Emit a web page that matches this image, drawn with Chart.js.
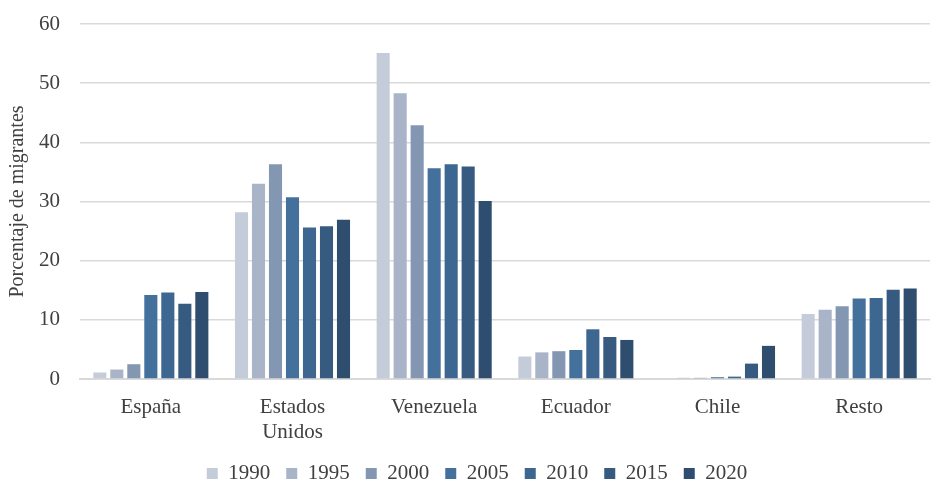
<!DOCTYPE html>
<html><head><meta charset="utf-8">
<script src="https://cdn.jsdelivr.net/npm/chart.js@4.4.1/dist/chart.umd.min.js"></script>
<style>html,body{margin:0;padding:0;background:#fff}#w{width:933px;height:481px}</style>
</head><body><div id="w"><canvas id="c"></canvas></div>
<script>
const categories = [['España'], ['Estados', 'Unidos'], ['Venezuela'], ['Ecuador'], ['Chile'], ['Resto']];
const years = ['1990', '1995', '2000', '2005', '2010', '2015', '2020'];
const v1990 = [1.1, 28.2, 55.1, 3.8, 0, 11.0];
const v1995 = [1.6, 33.0, 48.3, 4.5, 0.2, 11.7];
const v2000 = [2.5, 36.3, 42.9, 4.7, 0.2, 12.3];
const v2005 = [14.2, 30.7, 35.6, 4.9, 0.3, 13.6];
const v2010 = [14.6, 25.6, 36.3, 8.4, 0.4, 13.7];
const v2015 = [12.7, 25.8, 35.9, 7.1, 2.6, 15.1];
const v2020 = [14.7, 26.9, 30.1, 6.6, 5.6, 15.3];
const yTicks = [0, 10, 20, 30, 40, 50, 60];
const series = [v1990, v1995, v2000, v2005, v2010, v2015, v2020];
const colors = ['#c5ccd9', '#a9b4c8', '#8497b2', '#44719c', '#3d6690', '#365a80', '#2e4d6f'];
const font = "'Liberation Serif', 'DejaVu Serif', serif";
const shiftLegend = {
  id: 'shiftLegend',
  afterLayout(chart) { if (chart.legend) { chart.legend.left += 9; chart.legend.right += 9; } }
};
new Chart(document.getElementById('c'), {
  type: 'bar',
  data: {
    labels: categories,
    datasets: years.map((y, i) => ({
      label: y, data: series[i], backgroundColor: colors[i],
      borderWidth: 0,
      categoryPercentage: 0.84, barPercentage: 0.77
    }))
  },
  plugins: [shiftLegend],
  options: {
    responsive: true, maintainAspectRatio: false, animation: false,
    layout: { padding: { left: 6, right: 3, top: 24, bottom: -13 } },
    plugins: {
      legend: {
        position: 'bottom',
        labels: { font: { family: font, size: 21 }, color: '#404040', boxWidth: 11, boxHeight: 11, padding: 16 }
      },
      tooltip: { enabled: false }
    },
    scales: {
      x: {
        grid: { display: false },
        border: { color: '#d9d9d9', width: 2 },
        ticks: { font: { family: font, size: 21, lineHeight: 1.2 }, color: '#404040', padding: 8, maxRotation: 0 },
        afterFit: s => { s.height = 68; }
      },
      y: {
        min: 0, max: 60,
        afterBuildTicks: s => { s.ticks = yTicks.map(v => ({ value: v })); },
        afterFit: s => { s.width = 74; s.paddingTop = 0; s.paddingBottom = 0; },
        grid: { color: '#d9d9d9', lineWidth: 1.5, drawTicks: false },
        border: { display: false },
        ticks: { font: { family: font, size: 21 }, color: '#404040', padding: 20 },
        title: { display: true, text: 'Porcentaje de migrantes', font: { family: font, size: 20 }, color: '#404040', padding: { top: 0, bottom: 2 } }
      }
    }
  }
});
</script></body></html>
